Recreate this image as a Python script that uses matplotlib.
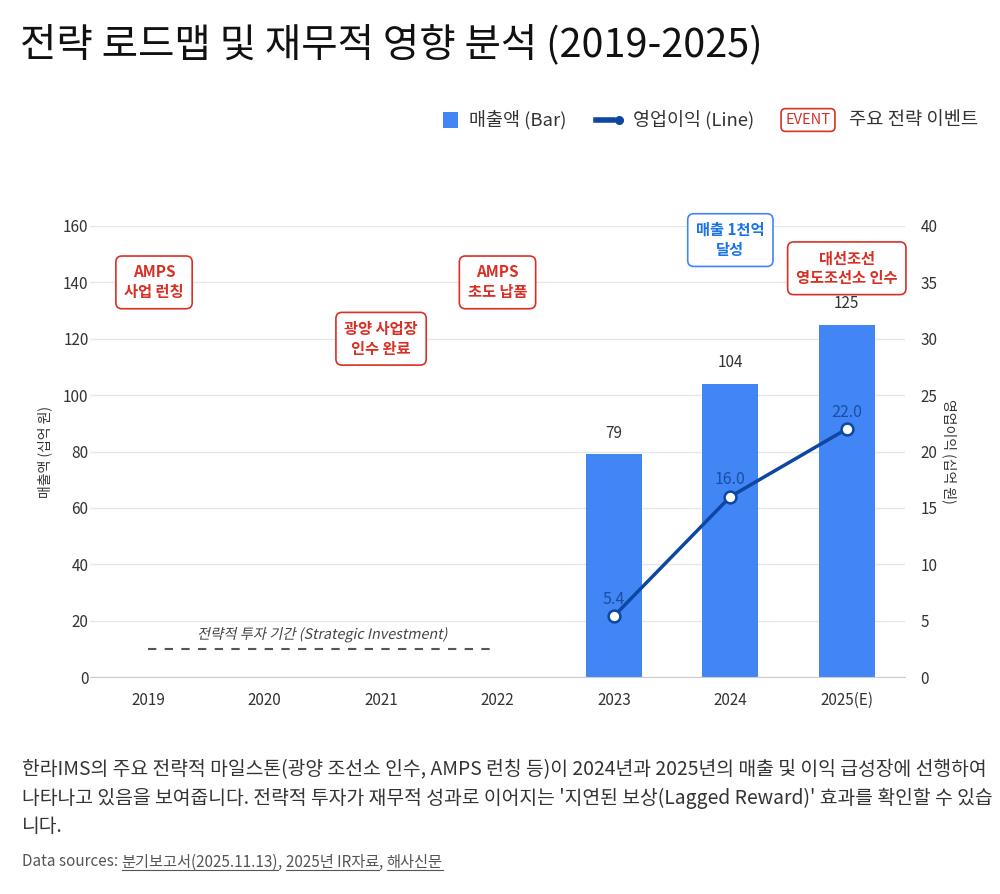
import matplotlib
matplotlib.use("Agg")
import matplotlib.pyplot as plt
from matplotlib.patches import Rectangle, PathPatch
from matplotlib.lines import Line2D
from matplotlib.textpath import TextPath
from matplotlib.font_manager import FontProperties
from matplotlib.transforms import Affine2D, IdentityTransform

plt.rcParams['font.family'] = ['Noto Sans CJK KR', 'DejaVu Sans']

years = ['2019', '2020', '2021', '2022', '2023', '2024', '2025(E)']
revenue = [None, None, None, None, 79, 104, 125]
op_profit = [None, None, None, None, 5.4, 16.0, 22.0]

events = ['AMPS\n사업 런칭', '광양 사업장\n인수 완료', 'AMPS\n초도 납품', '매출 1천억\n달성', '대선조선\n영도조선소 인수']
event_idx = [0, 2, 3, 5, 6]
event_y = [140, 120, 140, 155, 145]
event_kind = ['red', 'red', 'red', 'blue', 'red']

invest_label = '전략적 투자 기간 (Strategic Investment)'
invest_span = [0, 3]
invest_level = 10

BAR = '#4285F4'
LINE = '#0D47A1'
RED = '#D93025'
GRID = '#E6E6E6'
TXT = '#333333'

fig = plt.figure(figsize=(10, 8.94), dpi=100)
ax = fig.add_axes([0.09, 1 - 677/894, 0.815, (677 - 226)/894])
ax2 = ax.twinx()

x = list(range(len(years)))
bx = [i for i, v in zip(x, revenue) if v is not None]
bv = [v for v in revenue if v is not None]
ax.bar(bx, bv, width=0.48, color=BAR, zorder=2)
for xi, v in zip(bx, bv):
    ax.text(xi, v + 7.5, f'{v}', ha='center', va='center', fontsize=11, color=TXT)

ax.set_xlim(-0.5, 6.5)
ax.set_ylim(0, 160)
ax.set_yticks(range(0, 161, 20))
ax.set_xticks(x)
ax.set_xticklabels(years)
ax.grid(axis='y', color=GRID, linewidth=1, zorder=0)
ax.set_axisbelow(True)
for s in ['top', 'right', 'left']:
    ax.spines[s].set_visible(False)
ax.spines['bottom'].set_color('#CCCCCC')
ax.tick_params(axis='y', length=0, labelsize=11, colors=TXT, pad=1)
ax.tick_params(axis='x', length=0, labelsize=11, colors=TXT, pad=11)
ax.set_ylabel('매출액 (십억 원)', fontsize=10, color=TXT, labelpad=8)

lx = [i for i, v in zip(x, op_profit) if v is not None]
lv = [v for v in op_profit if v is not None]
ax2.plot(lx, lv, color=LINE, linewidth=2.5, marker='o', markersize=8.5,
         markerfacecolor='white', markeredgecolor=LINE, markeredgewidth=1.8, zorder=5)
for xi, v in zip(lx, lv):
    ax2.text(xi, v + 1.5, f'{v:.1f}', ha='center', va='center', fontsize=11.5, color='#174EA6', zorder=6)
ax2.set_ylim(0, 40)
ax2.set_yticks(range(0, 41, 5))
for s in ['top', 'right', 'left', 'bottom']:
    ax2.spines[s].set_visible(False)
ax2.tick_params(axis='y', length=0, labelsize=11, colors=TXT, pad=11)
ax2.set_ylabel('영업이익 (십억 원)', fontsize=10, color=TXT, rotation=270, labelpad=14)

# investment period
ax.plot(invest_span, [invest_level, invest_level], color='#555555', linestyle=(0, (4, 4)),
        linewidth=1.5, zorder=3)

fig.canvas.draw()
r = fig.canvas.get_renderer()
# italic (skewed) label
px, py = ax.transData.transform((sum(invest_span)/2, invest_level + 5))
prop = FontProperties(family=['Noto Sans CJK KR', 'DejaVu Sans'])
tp = TextPath((0, 0), invest_label, size=10.3*100/72, prop=prop)
ext = tp.get_extents()
cx, cy = (ext.x0 + ext.x1)/2, (ext.y0 + ext.y1)/2
tr = Affine2D().translate(-cx, -cy).skew_deg(12, 0).translate(px, py)
pp = PathPatch(tr.transform_path(tp), facecolor='#444444', edgecolor='none')
pp.set_transform(IdentityTransform())
fig.patches.append(pp)

# events
for lab, xi, yv, kind in zip(events, event_idx, event_y, event_kind):
    col = RED if kind == 'red' else '#1A73E8'
    ec = RED if kind == 'red' else BAR
    ax.text(xi + (0.05 if xi == 0 else 0), yv, lab, ha='center', va='center', fontsize=11,
            color=col, fontweight='bold', linespacing=1.3, zorder=7, clip_on=False,
            bbox=dict(boxstyle='round,pad=0.55,rounding_size=0.4', facecolor='white',
                      edgecolor=ec, linewidth=1.2))

# title
fig.text(0.02, 1 - 45/894, '전략 로드맵 및 재무적 영향 분석 (2019-2025)', fontsize=28.5,
         color='#111111', va='center', ha='left')

# legend
ly = 1 - 120/894
fig.patches.append(Rectangle((443/1000, ly - 7.5/894), 15/1000, 15/894, transform=fig.transFigure,
                             facecolor=BAR, edgecolor='none'))
fig.text(469/1000, ly, '매출액 (Bar)', fontsize=13.3, color=TXT, va='center', ha='left')
fig.lines.append(Line2D([596/1000, 613/1000], [ly, ly], transform=fig.transFigure, color=LINE, linewidth=4))
fig.lines.append(Line2D([619/1000], [ly], transform=fig.transFigure, color=LINE, marker='o', markersize=5.5))
fig.text(633/1000, ly, '영업이익 (Line)', fontsize=13.3, color=TXT, va='center', ha='left')
fig.text(808/1000, ly, 'EVENT', fontsize=10.5, color=RED, va='center', ha='center', fontweight='medium',
         bbox=dict(boxstyle='round,pad=0.3,rounding_size=0.3', facecolor='white', edgecolor=RED, linewidth=1.2))
fig.text(849/1000, ly, '주요 전략 이벤트', fontsize=13.5, color=TXT, va='center', ha='left')

# footer
foot = ["한라IMS의 주요 전략적 마일스톤(광양 조선소 인수, AMPS 런칭 등)이 2024년과 2025년의 매출 및 이익 급성장에 선행하여",
        "나타나고 있음을 보여줍니다. 전략적 투자가 재무적 성과로 이어지는 '지연된 보상(Lagged Reward)' 효과를 확인할 수 있습",
        "니다."]
for i, line in enumerate(foot):
    fig.text(22/1000, 1 - (770 + 28*i)/894, line, fontsize=13.9, color=TXT, va='center', ha='left')

src_y = 1 - 862/894
t = fig.text(22/1000, src_y, 'Data sources: ', fontsize=11, color='#555555', va='center', ha='left')
fig.canvas.draw()
xpos = t.get_window_extent(r).x1
links = ['분기보고서(2025.11.13)', '2025년 IR자료', '해사신문']
for j, lk in enumerate(links):
    tt = fig.text(xpos/1000, src_y, lk, fontsize=11, color='#555555', va='center', ha='left')
    bb = tt.get_window_extent(r)
    fig.lines.append(Line2D([bb.x0/1000, bb.x1/1000], [(bb.y0 + 1)/894]*2, transform=fig.transFigure,
                            color='#555555', linewidth=0.8))
    xpos = bb.x1
    if j < len(links) - 1:
        sep = fig.text(xpos/1000, src_y, ', ', fontsize=11, color='#555555', va='center', ha='left')
        xpos = sep.get_window_extent(r).x1

fig.savefig('out.png', dpi=100, facecolor='white')
